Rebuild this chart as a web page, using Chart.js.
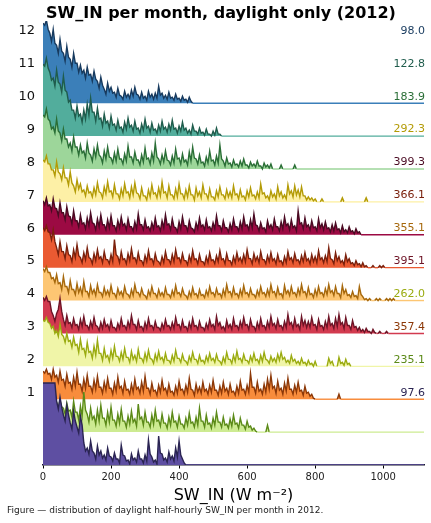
<!DOCTYPE html>
<html>
<head>
<meta charset="utf-8">
<script src="https://cdn.jsdelivr.net/npm/chart.js@4.4.1/dist/chart.umd.min.js"></script>
<style>
  body { margin: 0; background: #fff; }
  #wrap { position: relative; width: 431px; height: 523px; }
  #caption { position: absolute; left: 7px; top: 505px; font: 9px "DejaVu Sans", sans-serif; color: #222; white-space: nowrap; }
</style>
</head>
<body>
<div id="wrap">
  <canvas id="myChart" width="431" height="523"></canvas>
  <div id="caption">Figure — distribution of daylight half-hourly SW_IN per month in 2012.</div>
</div>
<script>
// histogram of daylight SW_IN, bins of 5 W m-2 starting at 0, one ridge per month (top ridge first)
const binWidth = 5;
const xMax = 1120;
const xTicks = [0, 200, 400, 600, 800, 1000];
const titleText = "SW_IN per month, daylight only (2012)";

// labels as printed, top row first
const rowLabels = ["12", "11", "10", "9", "8", "7", "6", "5", "4", "3", "2", "1"];
const rowValues = ["98.0", "122.8", "183.9", "292.3", "399.3", "366.1", "355.1", "395.1", "262.0", "357.4", "235.1", "97.6"];

const jan = [80,78,83,74,70,62,74,60,58,50,64,52,50,42,57,46,44,36,50,40,
  40,31,38,30,33,25,36,28,29,22,32,24,22,15,26,18,14,9,20,12,
  16,10,11,6,15,8,7,4,12,6,9,5,13,7,16,9,8,4,11,5,
  7,3,12,6,9,4,10,5,17,8,10,5,8,4,11,5,6,3,9,4,
  5,2,7,3,4,1,6,2];
const feb = [72,70,78,68,64,56,58,50,66,54,52,44,60,46,44,34,36,26,26,18,
  30,20,22,14,26,17,32,21,38,24,24,15,28,17,18,10,22,13,15,8,
  20,11,12,6,16,8,9,4,14,7,18,9,11,5,15,7,8,3,12,6,
  17,8,10,4,13,6,7,3,11,5,15,7,9,4,12,6,16,7,8,3,
  10,5,14,6,8,3,6,2,11,5,5,2,8,3,4,1,7,2,2,0,
  5,1,8,2,2,0];
const mar = [54,52,60,50,48,40,42,36,50,38,36,28,40,30,30,22,26,18,32,22,
  22,14,24,16,18,11,26,16,14,8,20,12,24,14,12,6,18,10,22,12,
  11,6,16,8,20,10,10,5,15,8,23,12,12,6,17,9,9,4,14,7,
  21,10,11,5,16,8,26,12,10,5,14,7,18,9,8,4,13,6,20,10,
  11,5,15,7,9,4,17,8,22,11,10,5,14,6,7,3,12,6,18,8,
  9,4,13,6,24,10,8,3,11,5,6,2,9,4,5,2,8,3,10,4,
  4,1,7,3,5,2,8,3,3,0,6,2,4,1,5,0,0,0,0,0,
  4,0,0,0,0,0,0,0,4,0];
const apr = [42,40,46,38,38,32,32,26,40,30,28,22,34,24,24,17,30,19,16,10,
  22,13,18,10,12,6,16,9,10,5,14,7,19,10,9,4,15,8,20,10,
  11,5,17,8,8,3,13,6,18,9,10,4,15,7,19,9,8,3,14,6,
  6,2,12,5,17,8,9,4,14,6,20,9,10,4,16,7,7,3,13,5,
  18,8,8,3,12,5,16,7,7,2,14,6,10,4,17,8,8,3,13,5,
  5,2,11,5,15,7,7,3,12,5,10,4,16,7,8,3,12,5,6,2,
  11,5,14,6,7,3,10,4,18,8,9,4,6,2,11,5,8,3,15,6,
  10,4,7,3,17,8,11,5,16,7,12,5,15,6,6,2,5,2,4,1,
  3,0,0,0,3,0,0,0,0,0,0,0,0,0,0,0,4,0,0,0,
  0,0,0,0,0,0,0,0,0,0,4,0];
const may = [34,30,37,29,30,24,36,27,26,19,32,22,22,15,28,19,18,11,24,14,
  14,8,20,11,12,6,17,9,22,12,11,5,16,8,20,10,10,5,15,7,
  19,9,9,4,14,7,18,9,11,5,16,8,8,4,13,6,21,10,10,5,
  15,7,8,4,12,6,17,8,9,4,14,7,20,10,11,5,16,8,7,3,
  13,6,18,9,9,4,14,7,6,3,12,6,17,8,10,5,15,7,8,4,
  12,6,19,9,9,4,14,7,7,3,11,5,16,8,8,4,13,6,18,9,
  10,5,15,7,21,10,9,4,12,6,7,3,14,7,10,5,16,8,8,4,
  13,6,18,9,11,5,15,7,9,4,24,11,12,6,17,8,10,5,14,7,
  8,4,16,7,11,5,13,6,7,3,10,4,12,5,6,2,9,3,5,2,
  8,3,4,1,6,2,3,0];
const jun = [40,37,42,36,35,28,38,26,20,13,26,16,16,9,22,13,12,6,18,10,
  23,12,10,5,15,8,20,10,9,4,14,7,18,9,11,5,16,8,8,4,
  13,6,28,13,11,5,16,8,9,4,14,7,19,9,10,5,15,7,7,3,
  12,6,17,8,9,4,14,7,6,3,11,5,16,8,8,4,13,6,18,9,
  10,5,14,7,7,3,12,6,17,8,9,4,13,6,6,3,11,5,15,7,
  8,4,12,6,17,8,9,4,14,7,7,3,11,5,15,7,10,5,13,6,
  18,9,9,4,14,7,11,5,16,8,8,4,12,6,15,7,9,4,13,6,
  7,3,11,5,16,8,10,5,14,7,8,4,12,6,15,7,9,4,13,6,
  11,5,17,8,10,5,12,6,20,9,8,4,15,7,11,5,7,3,13,6,
  9,4,5,2,7,3,4,1,5,1,2,0,0,0,2,0,0,0,2,0,
  2,0];
const jul = [32,29,34,28,28,22,23,18,26,17,18,11,24,14,14,8,20,11,11,6,
  17,8,13,6,19,9,9,4,15,7,11,5,16,8,8,4,13,6,10,5,
  15,7,7,3,12,6,9,4,14,7,6,3,11,5,16,8,8,4,12,6,
  5,2,10,5,14,7,7,3,11,5,8,4,13,6,6,3,10,5,15,7,
  8,4,12,6,5,2,9,4,13,6,7,3,11,5,6,3,10,5,14,7,
  8,4,12,6,7,3,11,5,16,8,9,4,13,6,7,3,11,5,15,7,
  8,4,12,6,6,3,10,5,14,7,8,4,11,5,16,8,9,4,13,6,
  7,3,15,7,10,5,14,7,8,4,12,6,16,8,9,4,13,6,7,3,
  11,5,14,7,8,4,12,6,16,8,10,5,14,7,7,3,15,7,11,5,
  6,3,9,4,5,2,14,6,4,1,2,0,2,0,0,0,2,0,2,0,
  0,0,2,0,2,0,2,0];
const aug = [36,33,37,32,32,22,18,12,20,24,35,22,14,8,18,10,11,6,15,8,
  9,4,14,7,17,8,8,4,12,6,16,8,7,3,11,5,14,7,9,4,
  13,6,6,3,10,5,15,7,8,4,12,6,18,9,9,4,13,6,7,3,
  11,5,15,7,8,4,12,6,6,3,10,5,14,7,8,4,11,5,16,8,
  9,4,13,6,7,3,11,5,15,7,8,4,12,6,6,3,10,5,14,7,
  9,4,17,8,11,5,7,3,13,6,9,4,15,7,8,4,12,6,16,8,
  9,4,14,7,7,3,11,5,15,7,8,4,12,6,17,8,10,5,14,7,
  8,4,12,6,19,9,11,5,15,7,9,4,17,8,13,6,12,6,16,8,
  9,4,14,7,8,4,12,6,17,8,10,5,15,7,19,9,11,5,16,8,
  8,4,13,6,7,3,6,2,4,1,5,2,2,0,4,1,0,0,2,0,
  0,0,2,0];
const sep = [46,45,49,44,43,38,40,33,36,30,42,32,30,24,33,25,26,19,29,21,
  22,14,27,17,18,11,24,14,15,8,20,11,26,13,13,6,18,9,11,5,
  16,8,20,10,10,5,14,7,18,9,9,4,15,7,11,5,17,8,8,4,
  13,6,16,8,7,3,12,6,15,7,9,4,13,6,6,3,11,5,16,8,
  8,4,12,6,5,2,10,5,14,7,7,3,11,5,6,3,10,5,13,6,
  8,4,12,6,5,2,9,4,14,7,7,3,11,5,15,7,8,4,12,6,
  6,3,10,5,13,6,7,3,11,5,14,7,6,3,10,5,8,4,12,6,
  14,7,9,4,6,3,11,5,7,3,5,2,8,3,4,1,6,2,3,0,
  5,0,0,0,0,0,0,0,8,3,5,0,0,0,9,3,4,1,7,2,
  3,0];
const oct = [28,26,30,25,26,20,30,22,24,17,28,19,20,13,25,16,17,10,22,13,
  27,15,15,8,20,11,24,13,13,7,19,10,23,12,12,6,17,9,21,11,
  11,5,16,8,22,11,13,6,18,9,10,5,15,7,20,10,12,6,17,8,
  23,11,11,5,16,8,9,4,14,7,19,9,11,5,15,7,8,4,13,6,
  18,9,10,5,14,7,21,10,9,4,15,7,12,6,17,8,10,5,14,7,
  19,9,9,4,13,6,17,8,11,5,15,7,8,4,13,6,18,9,10,5,
  14,7,26,12,12,6,17,8,10,5,15,7,20,10,24,11,13,6,18,9,
  11,5,16,8,21,10,10,5,14,7,17,8,9,4,13,6,7,3,5,1,
  0,0,0,0,0,0,0,0,0,0,0,0,0,0,5,0];
const nov = [48,46,44,40,38,34,42,32,30,24,32,25,24,18,29,21,22,15,31,20,
  20,12,26,16,40,22,18,10,24,13,16,8,22,11,27,14,14,7,20,10,
  25,12,12,6,18,9,23,11,11,5,16,8,21,10,13,6,28,13,15,7,
  20,10,10,5,17,8,22,11,12,6,18,9,9,4,15,7,20,10,11,5,
  16,8,8,4,14,7,19,9,10,5,15,7,24,11,11,5,17,8,9,4,
  14,7,20,10,10,5,15,7,8,4,13,6,17,8,9,4,14,7,7,3,
  11,5,6,2,4,1,0,0,0,0,0,0,7,0];
const dec = [82,82,82,82,82,82,82,82,64,56,68,58,50,44,60,50,42,36,54,44,
  38,32,49,40,22,14,17,11,24,14,12,6,19,10,14,7,10,5,17,9,
  8,4,12,6,6,2,20,10,9,4,5,1,11,5,7,3,14,6,6,2,
  10,4,25,11,8,3,5,1,29,12,11,5,7,3,13,6,9,4,17,8,
  24,10,6,2];

const ridgeData = [jan, feb, mar, apr, may, jun, jul, aug, sep, oct, nov, dec];
const fillColors = ["#3b7fb9", "#52ad9c", "#9dd69a", "#fdf0a6", "#9c0a43", "#ea5a32",
  "#fdc673", "#d23a4f", "#f0f5a8", "#f88c3c", "#cdeb92", "#5e4fa2"];
const lineColors = ["#173a5e", "#1f5c4c", "#2a6e36", "#b39b06", "#4a0a22", "#7a200c",
  "#a6680c", "#6e1426", "#9aab10", "#8c3808", "#5b8a18", "#2a2452"];

const ridgeHeight = 32.9; // bin value that spans one ridge step
const nRidges = ridgeData.length;

const datasets = [];
// bottom ridge first so it's painted on top
for (let i = nRidges - 1; i >= 0; i--) {
  const base = nRidges - 1 - i;
  const pts = ridgeData[i].map((v, k) => ({ x: k * binWidth, y: base + v / ridgeHeight }));
  pts.push({ x: ridgeData[i].length * binWidth, y: base });
  pts.push({ x: xMax, y: base });
  const fc = fillColors[i], lc = lineColors[i];
  datasets.push({
    data: pts,
    fill: { value: base },
    backgroundColor: fc,
    borderColor: lc,
    borderWidth: 1.4,
    pointRadius: 0,
    tension: 0,
    segment: {
      borderColor: c => (c.p0.parsed.y <= base + 1e-6 && c.p1.parsed.y <= base + 1e-6) ? fc : lc
    }
  });
}

// tick rows, bottom to top
const rowPos = rowLabels.map((l, i) => nRidges + 1.2 - i).reverse();
const leftLabels = rowLabels.slice().reverse();
const rightLabels = rowValues.slice().reverse();
const rightColors = lineColors.slice().reverse();

const titlePlugin = {
  id: 'figTitle',
  afterDraw(chart) {
    const ctx = chart.ctx;
    ctx.save();
    ctx.font = 'bold 16px "DejaVu Sans"';
    ctx.fillStyle = '#000';
    ctx.textAlign = 'center';
    ctx.textBaseline = 'middle';
    ctx.fillText(titleText, 221, 14);
    ctx.restore();
  }
};

const ctx = document.getElementById('myChart').getContext('2d');
const chart = new Chart(ctx, {
  type: 'line',
  data: { datasets: datasets },
  options: {
    responsive: false,
    animation: false,
    layout: { padding: { top: 21, left: 0, right: 0, bottom: 0 } },
    plugins: { legend: { display: false }, tooltip: { enabled: false } },
    scales: {
      x: {
        type: 'linear',
        min: 0,
        max: xMax,
        z: 1,
        afterFit: s => { s.height = 58; },
        afterBuildTicks: s => { s.ticks = xTicks.map(v => ({ value: v })); },
        grid: { display: true, drawOnChartArea: false, drawTicks: true, tickLength: 3.5, color: '#000' },
        border: { display: true, color: '#1a1a2e', width: 1.5 },
        ticks: {
          font: { family: 'DejaVu Sans', size: 10 },
          color: '#222',
          padding: 3,
          maxRotation: 0,
          callback: v => String(v)
        },
        title: {
          display: true,
          text: 'SW_IN (W m\u207B\u00B2)',
          font: { family: 'DejaVu Sans', size: 16 },
          color: '#000',
          padding: { top: 0, bottom: 17.4 }
        }
      },
      y: {
        type: 'linear',
        position: 'left',
        min: 0,
        max: 13.5,
        afterFit: s => { s.width = 43; },
        afterBuildTicks: s => { s.ticks = rowPos.map(v => ({ value: v })); },
        grid: { display: false, drawTicks: false },
        border: { display: false },
        ticks: {
          font: { family: 'DejaVu Sans', size: 13 },
          color: '#111',
          padding: 8,
          callback: (v, i) => leftLabels[i]
        }
      },
      y2: {
        type: 'linear',
        position: 'right',
        min: 0,
        max: 13.5,
        afterFit: s => { s.width = 7; },
        afterBuildTicks: s => { s.ticks = rowPos.map(v => ({ value: v })); },
        grid: { display: false, drawTicks: false },
        border: { display: false },
        ticks: {
          mirror: true,
          font: { family: 'DejaVu Sans', size: 11 },
          color: c => rightColors[c.index],
          padding: 1,
          callback: (v, i) => rightLabels[i]
        }
      }
    }
  },
  plugins: [titlePlugin]
});
</script>
</body>
</html>
